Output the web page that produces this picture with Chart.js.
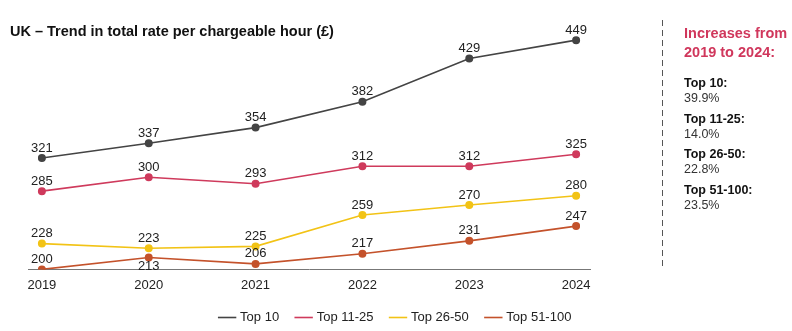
<!DOCTYPE html>
<html>
<head>
<meta charset="utf-8">
<script src="https://cdn.jsdelivr.net/npm/chart.js@4.4.1/dist/chart.umd.min.js"></script>
<style>
  html, body { margin: 0; padding: 0; background: #fff; }
  body { width: 792px; height: 331px; position: relative; overflow: hidden;
         font-family: "Liberation Sans", Arial, Helvetica, sans-serif; color: #222; }
  #wrap { position: absolute; left: 0; top: 0; width: 792px; height: 331px; }
  #title { position: absolute; left: 10px; top: 23px; font-size: 14.5px; font-weight: bold; color: #111; }
  #side { position: absolute; left: 662px; top: 20px; height: 250px; padding-left: 22px;
          background-image: repeating-linear-gradient(to bottom, #555 0, #555 6px, transparent 6px, transparent 10px);
          background-size: 1px 100%; background-repeat: no-repeat; }
  #side h3 { margin: 4px 0 14px 0; font-size: 14.5px; line-height: 19px; color: #d0375c; }
  #side .k { font-size: 12.5px; font-weight: bold; color: #111; line-height: 15px; }
  #side .v { font-size: 12.5px; color: #333; line-height: 15px; margin-bottom: 5.5px; }
</style>
</head>
<body>
<div id="wrap"><canvas id="myChart" width="792" height="331"></canvas></div>
<div id="title">UK – Trend in total rate per chargeable hour (£)</div>
<div id="side">
  <h3>Increases from<br>2019 to 2024:</h3>
  <div class="k">Top 10:</div><div class="v">39.9%</div>
  <div class="k">Top 11-25:</div><div class="v">14.0%</div>
  <div class="k">Top 26-50:</div><div class="v">22.8%</div>
  <div class="k">Top 51-100:</div><div class="v">23.5%</div>
</div>
<script>
var years = [2019, 2020, 2021, 2022, 2023, 2024];
var seriesNames = ['Top 10', 'Top 11-25', 'Top 26-50', 'Top 51-100'];
var top10 = [321, 337, 354, 382, 429, 449];
var top11to25 = [285, 300, 293, 312, 312, 325];
var top26to50 = [228, 223, 225, 259, 270, 280];
var top51to100 = [200, 213, 206, 217, 231, 247];
var colors = ['#444444', '#cf3a5c', '#f2c316', '#c4522b'];

// labels drawn under the point instead of above
var belowLabels = { '3-1': true };

function pts(vals) {
  return years.map(function(y, i) { return { x: y, y: vals[i] }; });
}

var valueLabels = {
  id: 'valueLabels',
  afterDatasetsDraw: function(chart) {
    var ctx = chart.ctx;
    ctx.save();
    ctx.font = '13px "Liberation Sans", Arial, sans-serif';
    ctx.fillStyle = '#222';
    ctx.textAlign = 'center';
    ctx.textBaseline = 'middle';
    chart.data.datasets.forEach(function(ds, di) {
      chart.getDatasetMeta(di).data.forEach(function(p, i) {
        var below = belowLabels[di + '-' + i];
        ctx.fillText(ds.data[i].y, p.x, below ? p.y + 9 : p.y - 10);
      });
    });
    ctx.restore();
  }
};

var allSeries = [top10, top11to25, top26to50, top51to100];

var ctx = document.getElementById('myChart').getContext('2d');
var myChart = new Chart(ctx, {
  type: 'line',
  data: {
    datasets: allSeries.map(function(vals, i) {
      return {
        label: seriesNames[i],
        data: pts(vals),
        borderColor: colors[i],
        backgroundColor: colors[i],
        borderWidth: 1.6,
        pointRadius: 3.2,
        pointHoverRadius: 3.2,
        tension: 0
      };
    })
  },
  options: {
    responsive: false,
    animation: false,
    layout: { padding: { top: 30, bottom: -3, left: 0, right: 0 } },
    plugins: {
      title: { display: false },
      tooltip: { enabled: false },
      legend: {
        position: 'bottom',
        labels: {
          usePointStyle: true,
          pointStyle: 'line',
          boxWidth: 14,
          padding: 18,
          color: '#222',
          font: { size: 13, family: '"Liberation Sans", Arial, sans-serif' }
        }
      }
    },
    scales: {
      x: {
        type: 'linear',
        min: 2018.87,
        max: 2024.13,
        afterBuildTicks: function(axis) {
          axis.ticks = years.map(function(v) { return { value: v }; });
        },
        afterFit: function(s) { s.height = s.height - 8; },
        ticks: {
          color: '#222',
          padding: 8,
          font: { size: 13, family: '"Liberation Sans", Arial, sans-serif' },
          callback: function(v) { return String(v); }
        },
        grid: { display: false, drawTicks: false },
        border: { display: true, color: '#777', width: 1 }
      },
      y: {
        min: 200,
        max: 460,
        display: true,
        ticks: { display: false },
        grid: { display: false, drawTicks: false },
        border: { display: false },
        afterFit: function(s) { s.width = 28; }
      },
      y2: {
        position: 'right',
        display: true,
        ticks: { display: false },
        grid: { display: false, drawTicks: false },
        border: { display: false },
        afterFit: function(s) { s.width = 202; }
      }
    }
  },
  plugins: [valueLabels]
});
</script>
</body>
</html>
